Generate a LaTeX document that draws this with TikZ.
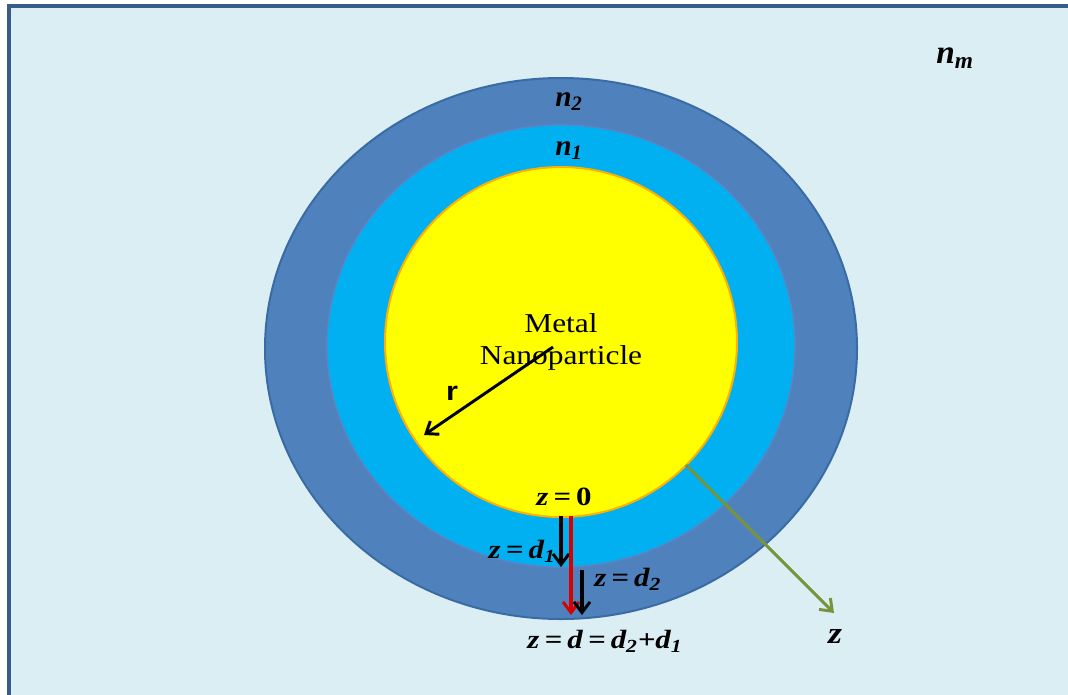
\documentclass[tikz,border=0pt]{standalone}
\usepackage{fontspec}
\setmainfont{Liberation Serif}
\setsansfont{Liberation Sans}
\usetikzlibrary{arrows.meta}
\definecolor{bgblue}{HTML}{DAEEF3}
\definecolor{framec}{HTML}{385D8A}
\definecolor{outerc}{HTML}{4F81BD}
\definecolor{outerb}{HTML}{3A6BA5}
\definecolor{midc}{HTML}{00B0F0}
\definecolor{midb}{HTML}{5A86C8}
\definecolor{yel}{HTML}{FFFF00}
\definecolor{yelb}{HTML}{FFB000}
\definecolor{greenc}{HTML}{77933C}
\newcommand{\wide}[1]{\scalebox{1.22}[1.04]{#1}}
\tikzset{
  lbl/.style={inner sep=0pt, font=\fontsize{19}{22}\selectfont\bfseries\itshape},
  arr/.style={line width=2.3pt, -{Straight Barb[length=8pt,width=12pt,line width=2.2pt]}},
}
\begin{document}
\begin{tikzpicture}[x=0.75pt,y=-0.75pt]
\useasboundingbox (0,0) rectangle (1068,694);
\fill[white] (0,0) rectangle (1068,694);
\draw[framec, line width=2.5pt, fill=bgblue] (9,6) rectangle (1080,704);
% layers
\draw[outerb, line width=1.5pt, fill=outerc] (561,348.5) ellipse [x radius=296, y radius=270.5];
\draw[midb, line width=1pt, fill=midc] (561,346) ellipse [x radius=234, y radius=221];
\draw[yelb, line width=1.5pt, fill=yel] (561,342) ellipse [x radius=176, y radius=175];
% labels of media
\node[inner sep=0pt, font=\fontsize{25}{28}\selectfont\bfseries\itshape] (nm) at (955,58) {n\textsubscript{m}};
\node[inner sep=0pt, font=\fontsize{22}{26}\selectfont\bfseries\itshape] (n2) at (569,102) {n\textsubscript{2}};
\node[inner sep=0pt, font=\fontsize{22}{26}\selectfont\bfseries\itshape] (n1) at (569,151) {n\textsubscript{1}};
\node[inner sep=0pt, align=center, font=\fontsize{20.5}{24}\selectfont] (metal) at (561,342) {\scalebox{1.15}[1]{Metal}\\\scalebox{1.15}[1]{Nanoparticle}};
% radius arrow
\coordinate (rc) at (553,347);
\coordinate (re) at (424,435);
\draw[line width=2.2pt, -{Straight Barb[length=8pt,width=12pt,line width=2.2pt]}] (rc) -- (re);
\node[inner sep=0pt, font=\fontsize{20}{24}\selectfont\sffamily\bfseries] (r) at (452,393) {\scalebox{1.15}[1]{r}};
% z labels and arrows
\node[lbl] (z0) at (564,497) {\wide{z\,=\,\upshape 0}};
\coordinate (a1s) at (561,516);
\coordinate (a1e) at (561,567);
\draw[arr] (a1s) -- (a1e);
\coordinate (rs) at (571,516);
\coordinate (re2) at (571,615);
\draw[line width=2.3pt, red!85!black, -{Straight Barb[length=8pt,width=12pt,line width=2.2pt]}] (rs) -- (re2);
\coordinate (a2s) at (582,570);
\coordinate (a2e) at (582,615);
\draw[arr] (a2s) -- (a2e);
\node[lbl, anchor=east] (zd1) at (556,551) {\wide{z\,=\,d\textsubscript{1}}};
\node[lbl, anchor=west] (zd2) at (594,579) {\wide{z\,=\,d\textsubscript{2}}};
\node[lbl] (zd) at (605,641) {\wide{z\,=\,d\,=\,d\textsubscript{2}+d\textsubscript{1}}};
% green z axis
\coordinate (gs) at (686,465);
\coordinate (ge) at (834,613);
\draw[greenc, line width=2.2pt, -{Straight Barb[length=8pt,width=12pt,line width=2.2pt]}] (gs) -- (ge);
\node[lbl, font=\fontsize{22}{26}\selectfont\bfseries\itshape] (zz) at (835,636) {\wide{z}};
\end{tikzpicture}
\end{document}
